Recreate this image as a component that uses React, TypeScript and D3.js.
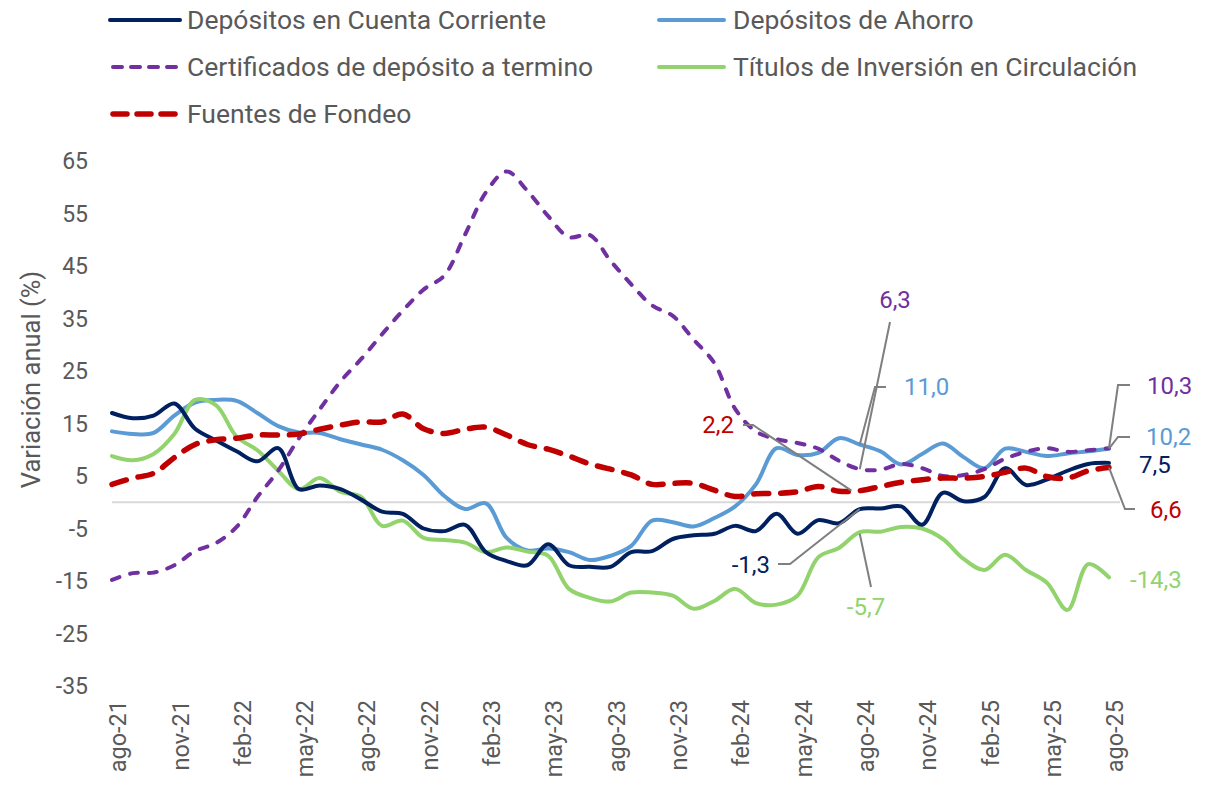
import React from "react";
import * as d3 from "d3";

const months = [
  "ago-21","sep-21","oct-21","nov-21","dic-21","ene-22","feb-22","mar-22","abr-22","may-22","jun-22","jul-22",
  "ago-22","sep-22","oct-22","nov-22","dic-22","ene-23","feb-23","mar-23","abr-23","may-23","jun-23","jul-23",
  "ago-23","sep-23","oct-23","nov-23","dic-23","ene-24","feb-24","mar-24","abr-24","may-24","jun-24","jul-24",
  "ago-24","sep-24","oct-24","nov-24","dic-24","ene-25","feb-25","mar-25","abr-25","may-25","jun-25","jul-25",
  "ago-25",
];

const cuentaCorriente = [
  17, 16, 16.5, 18.8, 14, 11.8, 9.7, 7.8, 10.3, 2.5, 3.2, 2.5,
  0.5, -1.8, -2.2, -5, -5.5, -4.3, -9.5, -11.2, -12, -8, -12, -12.3,
  -12.3, -9.5, -9.3, -7, -6.3, -6, -4.5, -5.5, -2.2, -6, -3.4, -4,
  -1.3, -1.2, -0.8, -4.3, 1.8, 0.2, 1, 6.5, 3.3, 4.3, 6, 7.3,
  7.5,
];

const ahorro = [
  13.5, 13, 13.2, 16.5, 19, 19.5, 19.3, 17, 14.5, 13.3, 13.2, 12,
  11, 10, 8, 5.2, 1.2, -1.3, -0.2, -6.8, -9.2, -8.8, -9.5, -11,
  -10.2, -8.3, -3.5, -3.8, -4.6, -3, -0.8, 3.4, 10.3, 9, 9.4, 12.2,
  11, 9.7, 7.2, 9.2, 11.2, 8.6, 6.5, 10.2, 9.6, 8.8, 9.3, 9.7,
  10.2,
];

const cdt = [
  -14.8, -13.5, -13.4, -12, -9.3, -7.8, -4.7, 1, 6, 12.2, 17.7, 23,
  27.3, 32, 36.5, 40.5, 43.2, 51, 59, 63, 59.3, 54.5, 50.5, 50.9,
  46, 41.5, 37.5, 35.5, 31, 26.5, 17.8, 13.5, 12, 11.3, 10.2, 7.9,
  6.3, 6.2, 7.3, 6.5, 5, 5.2, 6.3, 8.3, 9.6, 10.3, 9.6, 9.9,
  10.3,
];

const titulos = [
  8.8, 8, 9.2, 13, 19.5, 18.5, 12.5, 9.9, 6, 2.5, 4.6, 2,
  1, -4.5, -3.5, -6.8, -7.2, -7.7, -9.5, -8.6, -9.4, -10.2, -16.5, -18.2,
  -18.9, -17.2, -17.2, -17.8, -20.3, -18.8, -16.5, -19.2, -19.5, -17.8, -10.5, -8.7,
  -5.7, -5.6, -4.7, -5, -7, -10.8, -12.9, -10, -12.9, -15.3, -20.5, -11.8,
  -14.3,
];

const fondeo = [
  3.4, 4.6, 5.5, 8.5, 11, 11.9, 12.2, 12.8, 12.8, 13, 13.9, 14.7,
  15.3, 15.3, 16.8, 14, 13.1, 13.9, 14.3, 12.8, 11, 10.1, 8.8, 7.3,
  6.3, 5.2, 3.4, 3.6, 3.6, 2.3, 1.1, 1.6, 1.7, 2, 3, 2.1,
  2.2, 3, 3.8, 4.3, 4.6, 4.6, 4.9, 5.7, 6.5, 4.9, 4.6, 6,
  6.6,
];

const yTicks = [65, 55, 45, 35, 25, 15, 5, -5, -15, -25, -35];

const COLORS = {
  navy: "#002060",
  blue: "#5B9BD5",
  purple: "#7030A0",
  green: "#92D36E",
  red: "#C00000",
  text: "#595959",
  leader: "#7F7F7F",
};

type Series = {
  name: string;
  values: number[];
  color: string;
  width: number;
  dash?: string;
};

const series: Series[] = [
  { name: "Depósitos de Ahorro", values: ahorro, color: COLORS.blue, width: 4 },
  { name: "Títulos de Inversión en Circulación", values: titulos, color: COLORS.green, width: 4 },
  { name: "Depósitos en Cuenta Corriente", values: cuentaCorriente, color: COLORS.navy, width: 4 },
  { name: "Certificados de depósito a termino", values: cdt, color: COLORS.purple, width: 4, dash: "8 11" },
  { name: "Fuentes de Fondeo", values: fondeo, color: COLORS.red, width: 5.5, dash: "15 12" },
];

const fmt = (v: number) => v.toFixed(1).replace(".", ",");

export default function App() {
  const W = 1221;
  const H = 790;
  const x = d3.scaleLinear().domain([0, months.length - 1]).range([112, 1109]);
  const y = d3.scaleLinear().domain([-35, 65]).range([686, 161]);
  const font = "Roboto, 'Noto Sans', sans-serif";

  const line = (vals: number[]) =>
    d3
      .line<number>()
      .x((_, i) => x(i))
      .y((d) => y(d))
      .curve(d3.curveCatmullRom.alpha(0.5))(vals) || "";

  const legendItems = [
    { s: series[2], col: 0, row: 0 },
    { s: series[0], col: 1, row: 0 },
    { s: series[3], col: 0, row: 1 },
    { s: series[1], col: 1, row: 1 },
    { s: series[4], col: 0, row: 2 },
  ];
  const legCols = [
    { x1: 110, x2: 180, tx: 187 },
    { x1: 659, x2: 724, tx: 733 },
  ];
  const legRows = [20, 67, 114];
  const legendDash: Record<string, string> = {
    [COLORS.purple]: "9 9",
    [COLORS.red]: "14 10",
  };

  const last = months.length - 1;
  const ago24 = months.indexOf("ago-24");

  const P = (i: number, v: number): [number, number] => [x(i), y(v)];

  const annots: {
    text: string;
    color: string;
    tx: number;
    ty: number;
    anchor: string;
    pts: [number, number][];
  }[] = [
    {
      text: fmt(cdt[ago24]),
      color: COLORS.purple,
      tx: 895,
      ty: 300,
      anchor: "middle",
      pts: [[890, 322], P(ago24, cdt[ago24])],
    },
    {
      text: fmt(ahorro[ago24]),
      color: COLORS.blue,
      tx: 904,
      ty: 387,
      anchor: "start",
      pts: [[886, 387], [875, 387], P(ago24, ahorro[ago24])],
    },
    {
      text: fmt(fondeo[ago24]),
      color: COLORS.red,
      tx: 734,
      ty: 425,
      anchor: "end",
      pts: [[743, 425], [753, 425], P(ago24 - 0.4, fondeo[ago24])],
    },
    {
      text: fmt(cuentaCorriente[ago24]),
      color: COLORS.navy,
      tx: 770,
      ty: 565,
      anchor: "end",
      pts: [[778, 564], [790, 564], P(ago24, cuentaCorriente[ago24])],
    },
    {
      text: fmt(titulos[ago24]),
      color: COLORS.green,
      tx: 866,
      ty: 607,
      anchor: "middle",
      pts: [[871, 587], P(ago24, titulos[ago24] - 0.3)],
    },
    {
      text: fmt(cdt[last]),
      color: COLORS.purple,
      tx: 1147,
      ty: 386,
      anchor: "start",
      pts: [[1130, 385], [1118, 385], P(last, cdt[last])],
    },
    {
      text: fmt(ahorro[last]),
      color: COLORS.blue,
      tx: 1146,
      ty: 437,
      anchor: "start",
      pts: [[1130, 437], [1118, 437], P(last, ahorro[last])],
    },
    {
      text: fmt(cuentaCorriente[last]),
      color: COLORS.navy,
      tx: 1139,
      ty: 465,
      anchor: "start",
      pts: [],
    },
    {
      text: fmt(fondeo[last]),
      color: COLORS.red,
      tx: 1150,
      ty: 510,
      anchor: "start",
      pts: [[1135, 509], [1125, 509], P(last, fondeo[last])],
    },
    {
      text: fmt(titulos[last]),
      color: COLORS.green,
      tx: 1130,
      ty: 580,
      anchor: "start",
      pts: [],
    },
  ];

  const tickIdx = months.map((_, i) => i).filter((i) => i % 3 === 0);

  return (
    <svg
      width={W}
      height={H}
      style={{ position: "absolute", left: 0, top: 0, display: "block", background: "#fff" }}
      fontFamily={font}
    >
      {/* legend */}
      {legendItems.map(({ s, col, row }) => {
        const c = legCols[col];
        const ly = legRows[row];
        return (
          <g key={s.name}>
            <line
              x1={c.x1 + (s.dash ? 3 : 0)}
              x2={c.x2 - (s.dash ? 3 : 0)}
              y1={ly}
              y2={ly}
              stroke={s.color}
              strokeWidth={s.width}
              strokeDasharray={s.dash ? legendDash[s.color] : undefined}
              strokeLinecap="round"
            />
            <text x={c.tx} y={ly} dy="0.35em" fontSize={26.5} fill={COLORS.text}>
              {s.name}
            </text>
          </g>
        );
      })}

      {/* y axis */}
      {yTicks.map((t) => (
        <text key={t} x={88} y={y(t)} dy="0.35em" textAnchor="end" fontSize={23} fill={COLORS.text}>
          {t}
        </text>
      ))}
      <text
        transform={`translate(31,${(y(65) + y(-35)) / 2 - 44}) rotate(-90)`}
        textAnchor="middle"
        dy="0.35em"
        fontSize={25.5}
        fill={COLORS.text}
      >
        Variación anual (%)
      </text>

      {/* zero line */}
      <line x1={112} x2={1120} y1={y(0)} y2={y(0)} stroke="#D9D9D9" strokeWidth={2} />

      {/* x axis labels */}
      {tickIdx.map((i) => (
        <text
          key={i}
          transform={`translate(${x(i) + 6},700) rotate(-90)`}
          textAnchor="end"
          dy="0.35em"
          fontSize={23.5}
          fill={COLORS.text}
        >
          {months[i]}
        </text>
      ))}

      {/* series */}
      {series.map((s) => (
        <path
          key={s.name}
          d={line(s.values)}
          fill="none"
          stroke={s.color}
          strokeWidth={s.width}
          strokeDasharray={s.dash}
          strokeLinecap="round"
          strokeLinejoin="round"
        />
      ))}

      {/* annotations */}
      {annots.map((a, k) => (
        <g key={k}>
          {a.pts.length > 0 && (
            <polyline
              points={a.pts.map((p) => p.join(",")).join(" ")}
              fill="none"
              stroke={COLORS.leader}
              strokeWidth={2}
            />
          )}
          <text x={a.tx} y={a.ty} dy="0.35em" textAnchor={a.anchor} fontSize={24} fill={a.color}>
            {a.text}
          </text>
        </g>
      ))}
    </svg>
  );
}
